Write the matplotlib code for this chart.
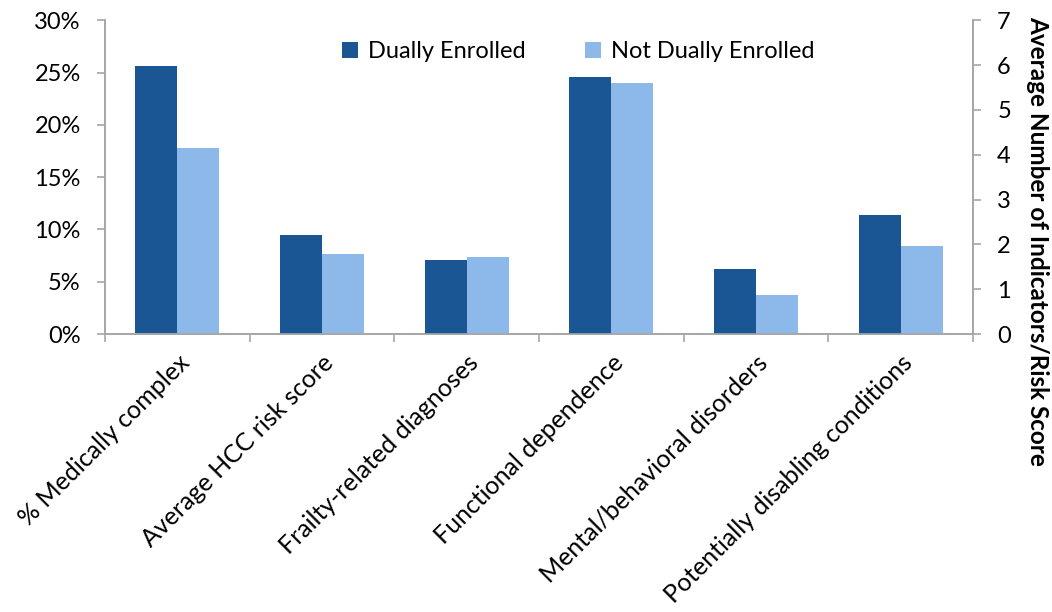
import matplotlib
matplotlib.use("Agg")
import matplotlib.pyplot as plt
import numpy as np
from matplotlib.ticker import FuncFormatter

plt.rcParams["font.family"] = ["Lato", "DejaVu Sans"]

categories = ["% Medically complex", "Average HCC risk score",
              "Frailty-related diagnoses", "Functional dependence",
              "Mental/behavioral disorders", "Potentially disabling conditions"]
# first category is a percent (left axis), the rest are counts/scores (right axis)
dual = [25.6, 2.22, 1.65, 5.74, 1.45, 2.65]
not_dual = [17.8, 1.78, 1.72, 5.61, 0.88, 1.96]
series_names = ["Dually Enrolled", "Not Dually Enrolled"]
right_label = "Average Number of Indicators/Risk Score"

dark = "#1A5594"
light = "#8DB9EA"
gray = "#A6A6A6"

fig = plt.figure(figsize=(10.52, 6.12), dpi=100)
ax = fig.add_axes([0.0998, 0.454, 0.825, 0.513])
ax2 = ax.twinx()

x = np.arange(len(categories))
w = 0.29

# percent group on the left axis
ax.bar(x[0] - w / 2, dual[0], w, color=dark, label=series_names[0])
ax.bar(x[0] + w / 2, not_dual[0], w, color=light, label=series_names[1])
# other groups on the right axis
ax2.bar(x[1:] - w / 2, dual[1:], w, color=dark)
ax2.bar(x[1:] + w / 2, not_dual[1:], w, color=light)

ax.set_xlim(-0.5, len(categories) - 0.5)
ax.set_ylim(0, 30)
ax2.set_ylim(0, 7)
ax.set_yticks(np.arange(0, 31, 5))
ax.yaxis.set_major_formatter(FuncFormatter(lambda v, p: "%d%%" % v))
ax2.set_yticks(np.arange(0, 8, 1))

ax.set_xticks(x)
ax.set_xticklabels(categories, rotation=45, ha="right", rotation_mode="anchor",
                   fontsize=18)
ax.set_xticks(np.arange(-0.5, len(categories), 1), minor=True)
ax.tick_params(axis="x", which="major", length=0, pad=12)
ax.tick_params(axis="x", which="minor", length=6, color=gray, width=1.2)
ax.tick_params(axis="y", labelsize=17, length=5.5, color=gray, width=1.2, pad=12)
ax2.tick_params(axis="y", labelsize=17, length=5.5, color=gray, width=1.2, pad=12)

for a in (ax, ax2):
    a.spines["top"].set_visible(False)
    for s in ("left", "right", "bottom"):
        a.spines[s].set_color(gray)
        a.spines[s].set_linewidth(1.2)

# right axis title, placed by hand so it sits clear of the tick labels
fig.text(0.986, 0.606, right_label, rotation=-90, ha="center", va="center",
         fontsize=17.5, fontweight="bold")

ax.legend(loc="upper center", bbox_to_anchor=(0.545, 1.0), ncol=2, frameon=False,
          fontsize=17, handlelength=0.7, handleheight=0.7, columnspacing=2.5,
          handletextpad=0.4)

fig.savefig("out.png", dpi=100)
